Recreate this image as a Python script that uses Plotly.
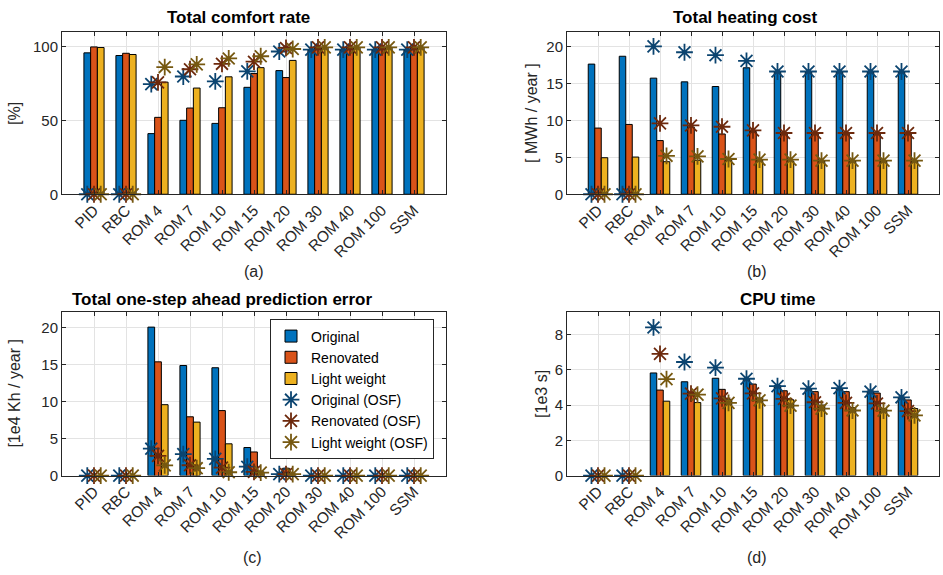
import plotly.graph_objects as go

categories = ["PID", "RBC", "ROM 4", "ROM 7", "ROM 10", "ROM 15", "ROM 20", "ROM 30", "ROM 40", "ROM 100", "SSM"]
series_names = ["Original", "Renovated", "Light weight"]
osf_names = ["Original (OSF)", "Renovated (OSF)", "Light weight (OSF)"]

# (a) Total comfort rate [%]
comfort_original = [95.6, 93.8, 41.0, 50.0, 47.9, 72.3, 83.6, 97.5, 97.5, 97.5, 97.5]
comfort_renovated = [99.6, 95.3, 52.0, 58.3, 58.5, 81.6, 78.9, 99.0, 99.2, 99.2, 99.2]
comfort_light = [99.2, 94.5, 75.8, 71.8, 79.4, 85.6, 90.5, 99.2, 99.4, 99.4, 99.4]
comfort_original_osf = [0, 0, 74.5, 79.6, 76.3, 83.1, 96.5, 97.8, 97.8, 97.8, 97.8]
comfort_renovated_osf = [0, 0, 75.6, 84.5, 88.2, 89.6, 98.9, 99.3, 99.3, 99.3, 99.3]
comfort_light_osf = [0, 0, 86.0, 87.8, 91.8, 93.3, 98.2, 99.3, 99.3, 99.3, 99.3]

# (b) Total heating cost [MWh/year]
heat_original = [17.6, 18.66, 15.7, 15.2, 14.57, 17.1, 16.5, 16.5, 16.5, 16.5, 16.5]
heat_renovated = [8.95, 9.44, 7.26, 9.1, 8.15, 8.5, 8.2, 8.2, 8.2, 8.2, 8.2]
heat_light = [4.94, 5.03, 4.4, 4.6, 4.6, 4.6, 4.5, 4.5, 4.5, 4.5, 4.5]
heat_original_osf = [0, 0, 20.0, 19.2, 18.8, 18.04, 16.6, 16.6, 16.6, 16.6, 16.6]
heat_renovated_osf = [0, 0, 9.58, 9.3, 9.13, 8.64, 8.28, 8.28, 8.28, 8.28, 8.28]
heat_light_osf = [0, 0, 5.2, 5.12, 4.77, 4.68, 4.68, 4.54, 4.54, 4.54, 4.54]

# (c) Total one-step ahead prediction error [1e4 Kh/year]
pred_original = [0, 0, 20.1, 14.9, 14.6, 3.8, 0.2, 0, 0, 0, 0]
pred_renovated = [0, 0, 15.4, 7.96, 8.8, 3.2, 1.0, 0, 0, 0, 0]
pred_light = [0, 0, 9.6, 7.24, 4.3, 0.5, 0.2, 0, 0, 0, 0]
pred_original_osf = [0, 0, 3.64, 2.9, 2.27, 1.2, 0.2, 0, 0, 0, 0]
pred_renovated_osf = [0, 0, 2.67, 1.4, 1.07, 0.5, 0.2, 0, 0, 0, 0]
pred_light_osf = [0, 0, 1.38, 1.0, 0.45, 0.4, 0.2, 0, 0, 0, 0]

# (d) CPU time [1e3 s]
cpu_original = [0, 0, 5.82, 5.32, 5.52, 5.45, 5.1, 4.9, 4.9, 4.8, 4.45]
cpu_renovated = [0, 0, 4.85, 4.7, 4.89, 5.19, 4.81, 4.76, 4.76, 4.68, 4.29]
cpu_light = [0, 0, 4.22, 4.14, 4.3, 4.4, 4.3, 4.0, 3.85, 3.8, 3.8]
cpu_original_osf = [0, 0, 8.4, 6.44, 6.12, 5.49, 5.07, 4.93, 4.96, 4.76, 4.44]
cpu_renovated_osf = [0, 0, 6.9, 4.65, 4.38, 4.66, 4.35, 4.16, 4.12, 4.09, 3.66]
cpu_light_osf = [0, 0, 5.47, 4.59, 4.12, 4.27, 3.97, 3.8, 3.69, 3.68, 3.41]

bar_colors = ["#0072BD", "#D95319", "#EDB120"]
osf_colors = ["#0B4470", "#6D290C", "#765810"]

W, H = 943, 575
FONT = "Liberation Sans, Arial, Helvetica, sans-serif"
TXT = "#262626"

# panel pixel boxes (left, right, top, bottom)
panels = [
    dict(box=(62, 446, 32, 197), yrange=[0, 110], yticks=[0, 50, 100],
         bars=[comfort_original, comfort_renovated, comfort_light],
         osf=[comfort_original_osf, comfort_renovated_osf, comfort_light_osf],
         title="Total comfort rate", title_x=238, title_y=18,
         ylabel="[%]", ylabel_x=15, cap="(a)", cap_x=254, cap_y=275),
    dict(box=(567, 939, 32, 197), yrange=[0, 22], yticks=[0, 5, 10, 15, 20],
         bars=[heat_original, heat_renovated, heat_light],
         osf=[heat_original_osf, heat_renovated_osf, heat_light_osf],
         title="Total heating cost", title_x=745, title_y=18,
         ylabel="[ MWh / year ]", ylabel_x=532, cap="(b)", cap_x=757, cap_y=275),
    dict(box=(62, 446, 316, 482.3), yrange=[0, 22.2], yticks=[0, 5, 10, 15, 20],
         bars=[pred_original, pred_renovated, pred_light],
         osf=[pred_original_osf, pred_renovated_osf, pred_light_osf],
         title="Total one-step ahead prediction error", title_x=222, title_y=304,
         ylabel="[1e4 Kh / year ]", ylabel_x=15, cap="(c)", cap_x=252, cap_y=565),
    dict(box=(567, 939, 316.7, 482.3), yrange=[0, 9.26], yticks=[0, 2, 4, 6, 8],
         bars=[cpu_original, cpu_renovated, cpu_light],
         osf=[cpu_original_osf, cpu_renovated_osf, cpu_light_osf],
         title="CPU time", title_x=778, title_y=304,
         ylabel="[1e3 s]", ylabel_x=542, cap="(d)", cap_x=757, cap_y=565),
]

x_pos = list(range(1, len(categories) + 1))
bargap = 0.37
bar_w = (1 - bargap) / 3

fig = go.Figure()
annotations = []
layout = {}

for p_i, p in enumerate(panels):
    n = p_i + 1
    xa = "x" if n == 1 else f"x{n}"
    ya = "y" if n == 1 else f"y{n}"
    for s_i in range(3):
        fig.add_trace(go.Bar(
            x=x_pos, y=p["bars"][s_i], name=series_names[s_i],
            marker=dict(color=bar_colors[s_i], line=dict(color="black", width=1)),
            xaxis=xa, yaxis=ya, showlegend=(p_i == 0), legendrank=s_i + 1,
        ))
    for s_i in range(3):
        offset = (s_i - 1) * bar_w
        fig.add_trace(go.Scatter(
            x=[xv + offset for xv in x_pos], y=p["osf"][s_i], name=osf_names[s_i],
            mode="markers", cliponaxis=False,
            marker=dict(symbol="asterisk-open", size=14,
                        line=dict(color=osf_colors[s_i], width=1.8),
                        color=osf_colors[s_i]),
            xaxis=xa, yaxis=ya, showlegend=(p_i == 0), legendrank=s_i + 4,
        ))
    l, r, t, b = p["box"]
    axis_common = dict(showline=True, linecolor=TXT, linewidth=1, mirror="ticks",
                       ticks="inside", ticklen=4, tickcolor=TXT,
                       showgrid=True, gridcolor="#E3E3E3", gridwidth=1,
                       zeroline=False)
    layout["xaxis" if n == 1 else f"xaxis{n}"] = dict(
        axis_common, domain=[l / W, r / W], range=[0, 12], anchor=ya,
        tickmode="array", tickvals=x_pos, ticktext=categories, tickangle=-45,
        tickfont=dict(family=FONT, size=15.5, color=TXT))
    layout["yaxis" if n == 1 else f"yaxis{n}"] = dict(
        axis_common, domain=[1 - b / H, 1 - t / H], range=p["yrange"], anchor=xa,
        tickmode="array", tickvals=p["yticks"],
        tickfont=dict(family=FONT, size=15, color=TXT))
    annotations.append(dict(text="<b>" + p["title"] + "</b>", x=p["title_x"] / W, y=1 - p["title_y"] / H,
                            xref="paper", yref="paper", showarrow=False, xanchor="center", yanchor="middle",
                            font=dict(family=FONT, size=17, color="black")))
    annotations.append(dict(text=p["ylabel"], x=p["ylabel_x"] / W, y=1 - ((t + b) / 2) / H,
                            xref="paper", yref="paper", showarrow=False, textangle=-90,
                            xanchor="center", yanchor="middle",
                            font=dict(family=FONT, size=16, color=TXT)))
    annotations.append(dict(text=p["cap"], x=p["cap_x"] / W, y=1 - p["cap_y"] / H,
                            xref="paper", yref="paper", showarrow=False, xanchor="center", yanchor="middle",
                            font=dict(family=FONT, size=16, color=TXT)))

fig.update_layout(
    **layout,
    width=W, height=H,
    margin=dict(l=0, r=0, t=0, b=0),
    paper_bgcolor="white", plot_bgcolor="white",
    barmode="group", bargap=bargap, bargroupgap=0,
    annotations=annotations,
    legend=dict(x=270 / W, y=1 - 324 / H, xanchor="left", yanchor="top",
                bgcolor="white", bordercolor="#262626", borderwidth=1,
                font=dict(family=FONT, size=14, color="black"),
                tracegroupgap=0, itemwidth=30),
    font=dict(family=FONT),
)

fig.write_html("out.html", config={"displayModeBar": False},
               post_script="document.body.style.margin='0';document.body.style.overflow='hidden';")
